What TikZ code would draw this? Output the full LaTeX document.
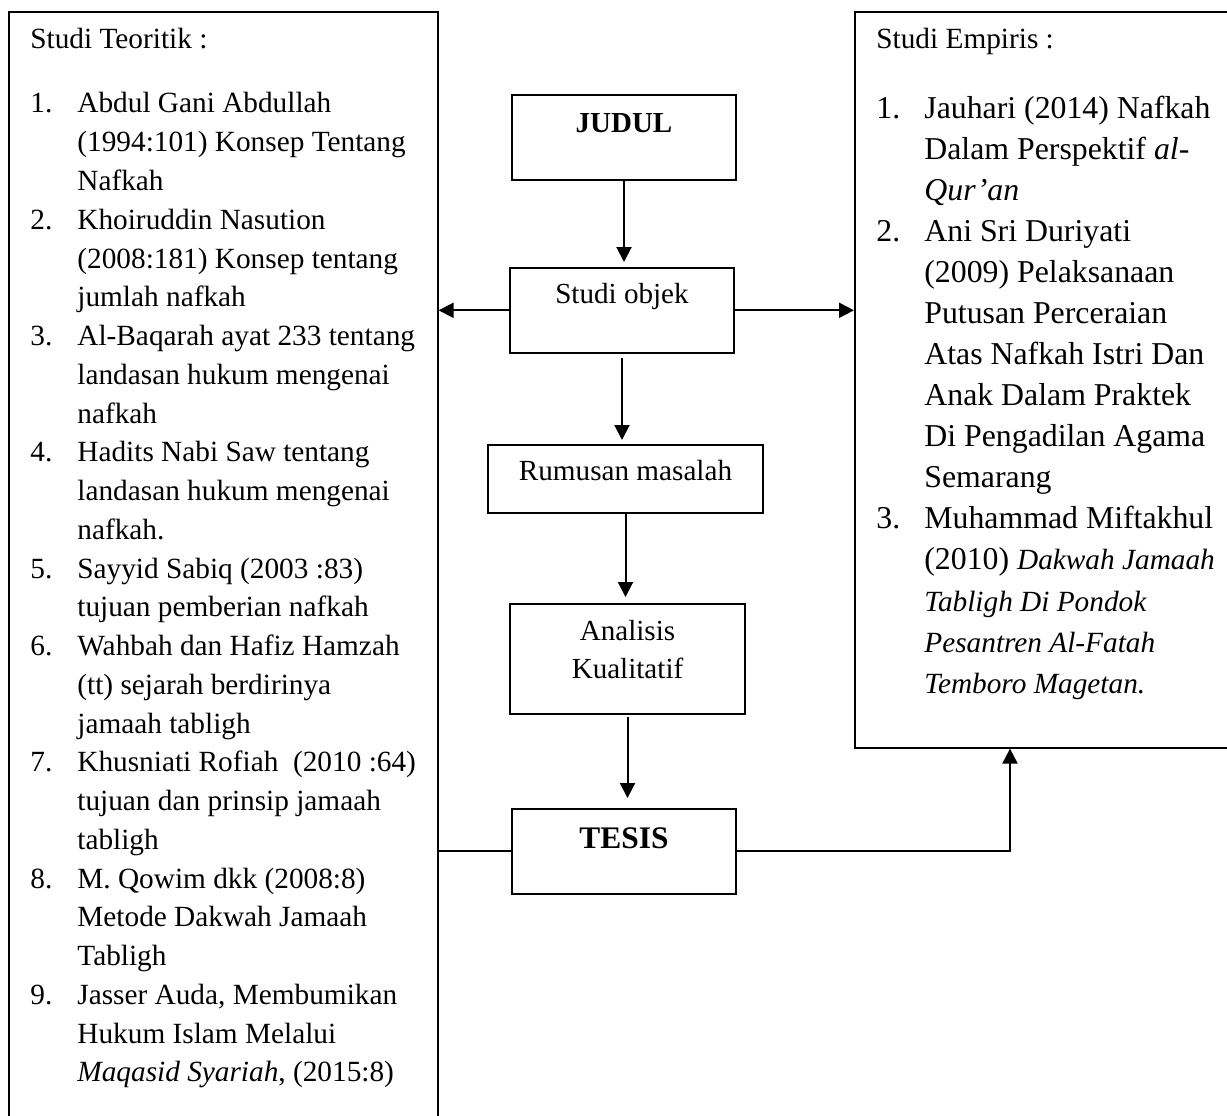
\documentclass[tikz,border=0pt]{standalone}
\usepackage{fontspec}
\setmainfont{Liberation Serif}
\usepackage{array}
\usetikzlibrary{arrows.meta}

\tikzset{
  kotak/.style={draw, line width=0.8pt, inner sep=0pt},
  panah/.style={-{Triangle[length=7.5pt,width=7.5pt]}, line width=1pt},
  garis/.style={line width=1pt},
  daftar/.style={anchor=base west, inner sep=0pt},
}
\newcommand{\miringkecil}[1]{{\fontsize{14.65pt}{20.54pt}\selectfont\itshape #1}}

\begin{document}
\begin{tikzpicture}[x=0.5pt, y=-0.5pt]
\useasboundingbox (0,0) rectangle (1227,1115);
\clip (0,0) rectangle (1227,1115);

% Draw side boxes (they run off the page)
\node (teori) [kotak, anchor=north west, minimum width=214.5pt, minimum height=600pt] at (8,11) {};
\node (empiris) [kotak, anchor=north west, minimum width=220pt, minimum height=368pt] at (854,11) {};

% Theory list
\node (teoriisi) [daftar, font=\fontsize{14.65pt}{19.38pt}\selectfont] at (30,48) {%
\begin{tabular}[t]{@{}p{23.5pt}@{}l@{}}
\multicolumn{2}{@{}l}{Studi Teoritik :}\\[13.1pt]
1. & Abdul Gani Abdullah\\
   & (1994:101) Konsep Tentang\\
   & Nafkah\\
2. & Khoiruddin Nasution\\
   & (2008:181) Konsep tentang\\
   & jumlah nafkah\\
3. & Al-Baqarah ayat 233 tentang\\
   & landasan hukum mengenai\\
   & nafkah\\
4. & Hadits Nabi Saw tentang\\
   & landasan hukum mengenai\\
   & nafkah.\\
5. & Sayyid Sabiq (2003 :83)\\
   & tujuan pemberian nafkah\\
6. & Wahbah dan Hafiz Hamzah\\
   & (tt) sejarah berdirinya\\
   & jamaah tabligh\\
7. & Khusniati Rofiah~ (2010 :64)\\
   & tujuan dan prinsip jamaah\\
   & tabligh\\
8. & M. Qowim dkk (2008:8)\\
   & Metode Dakwah Jamaah\\
   & Tabligh\\
9. & Jasser Auda, Membumikan\\
   & Hukum Islam Melalui\\
   & \textit{Maqasid Syariah}, (2015:8)
\end{tabular}};

% Empirical list
\node (empirisisi) [daftar, font=\fontsize{15.9pt}{20.54pt}\selectfont] at (876,48) {%
\begin{tabular}[t]{@{}p{24pt}@{}l@{}}
\multicolumn{2}{@{}l}{\fontsize{14.65pt}{19pt}\selectfont Studi Empiris :}\\[14.5pt]
1. & Jauhari (2014) Nafkah\\
   & Dalam Perspektif \textit{al-}\\
   & \textit{Qur'an}\\
2. & Ani Sri Duriyati\\
   & (2009) Pelaksanaan\\
   & Putusan Perceraian\\
   & Atas Nafkah Istri Dan\\
   & Anak Dalam Praktek\\
   & Di Pengadilan Agama\\
   & Semarang\\
3. & Muhammad Miftakhul\\
   & (2010) \miringkecil{Dakwah Jamaah}\\
   & \miringkecil{Tabligh Di Pondok}\\
   & \miringkecil{Pesantren Al-Fatah}\\
   & \miringkecil{Temboro Magetan.}
\end{tabular}};

% Middle flow
\node (judul) [kotak, anchor=north, minimum width=112pt, text height=19pt, text depth=23.5pt,
  font=\fontsize{14.5pt}{17pt}\selectfont\bfseries] at (624,94) {JUDUL};
\node (objek) [kotak, anchor=north, minimum width=112pt, text height=18pt, text depth=24.5pt,
  font=\fontsize{14.55pt}{17pt}\selectfont] at (622,267) {Studi objek};
\node (rumusan) [kotak, anchor=north, minimum width=137.5pt, text height=18pt, text depth=16pt,
  font=\fontsize{14.6pt}{17pt}\selectfont] at (625.5,444) {Rumusan masalah};
\node (analisis) [kotak, anchor=north, text width=117.5pt, align=center, text height=18.5pt, text depth=36.5pt,
  font=\fontsize{14.55pt}{19pt}\selectfont] at (627.5,603) {Analisis\\Kualitatif};
\node (tesis) [kotak, anchor=north, minimum width=112pt, text height=20pt, text depth=22.5pt,
  font=\fontsize{15.7pt}{18pt}\selectfont\bfseries] at (624,808) {TESIS};

% Draw arrows
\draw[panah, shorten >=2.5pt] (judul.south) -- (judul.south |- objek.north);
\draw[panah, shorten <=2pt, shorten >=2pt] (objek.south) -- (objek.south |- rumusan.north);
\draw[panah, shorten >=3pt] (rumusan.south) -- (rumusan.south |- analisis.north);
\draw[panah, shorten <=1pt, shorten >=5pt] (analisis.south) -- (analisis.south |- tesis.north);
\draw[panah] (objek.west) -- (objek.west -| teori.east);
\draw[panah] (objek.east) -- (objek.east -| empiris.west);

% Lines out of TESIS
\draw[garis] (tesis.west) -- (tesis.west -| teori.east);
\draw[panah] (tesis.east) -| ([xshift=78pt]empiris.south west);
\end{tikzpicture}
\end{document}
